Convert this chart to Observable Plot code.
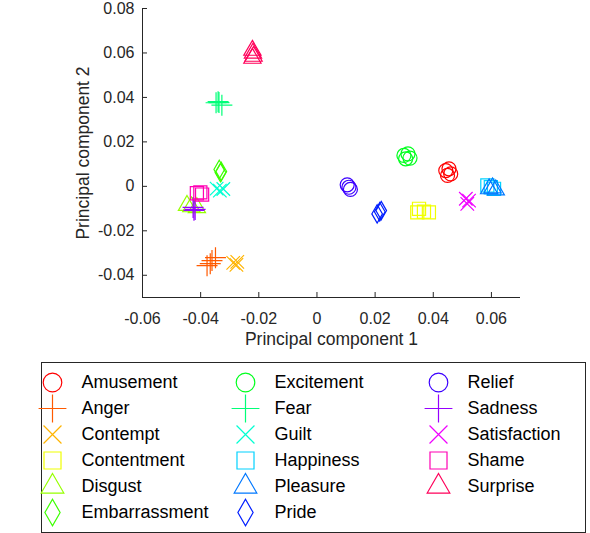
<!DOCTYPE html>
<html><head><meta charset="utf-8">
<script src="https://cdn.jsdelivr.net/npm/d3@7"></script>
<script src="https://cdn.jsdelivr.net/npm/@observablehq/plot@0.6"></script>
<style>
body{margin:0;background:#fff;font-family:"Liberation Sans",Arial,sans-serif;}
#chart{position:absolute;left:0;top:0;}
#legend{position:absolute;left:41px;top:362px;width:543px;height:169px;border:1px solid #262626;background:#fff;}
svg{display:block;}
</style></head><body>
<div id="chart"></div><div id="legend"></div>
<script>
const emotions = ["Amusement","Anger","Contempt","Contentment","Disgust","Embarrassment","Excitement","Fear","Guilt","Happiness","Pleasure","Pride","Relief","Sadness","Satisfaction","Shame","Surprise"];
const shapes = ["circle","plus","times","square","triangle","diamond"];
const colors = ["#ff0000","#ff5a00","#ffb400","#f0ff00","#96ff00","#3cff00","#00ff1e","#00ff78","#00ffd2","#00d2ff","#0078ff","#001eff","#3c00ff","#9600ff","#f000ff","#ff00b4","#ff005a"];
const pc1 = [
  [0.0443, 0.0454, 0.0460, 0.0449],
  [-0.0378, -0.0361, -0.0349, -0.0367],
  [-0.0288, -0.0277, -0.0274],
  [0.0351, 0.0368, 0.0385, 0.0345],
  [-0.0447, -0.0432, -0.0413],
  [-0.0336, -0.0329, -0.0332],
  [0.0299, 0.0313, 0.0320, 0.0305],
  [-0.0347, -0.0337, -0.0327, -0.0340],
  [-0.0345, -0.0334, -0.0322],
  [0.0586, 0.0598, 0.0609],
  [0.0592, 0.0604, 0.0615],
  [0.0207, 0.0216, 0.0221],
  [0.0104, 0.0115, 0.0110],
  [-0.0426, -0.0419, -0.0423],
  [0.0512, 0.0523, 0.0517],
  [-0.0413, -0.0401, -0.0395],
  [-0.0222, -0.0220, -0.0218, -0.0222]
];
const pc2 = [
  [0.0071, 0.0079, 0.0056, 0.0049],
  [-0.0357, -0.0334, -0.0321, -0.0348],
  [-0.0344, -0.0353, -0.0340],
  [-0.0101, -0.0114, -0.0117, -0.0117],
  [-0.0086, -0.0092, -0.0096],
  [0.0076, 0.0067, 0.0062],
  [0.0139, 0.0146, 0.0127, 0.0124],
  [0.0376, 0.0377, 0.0365, 0.0381],
  [-0.0010, -0.0019, -0.0012],
  [0.0004, -0.0004, -0.0011],
  [-0.0011, -0.0007, -0.0016],
  [-0.0124, -0.0114, -0.0109],
  [0.0007, -0.0014, -0.0004],
  [-0.0095, -0.0104, -0.0108],
  [-0.0056, -0.0064, -0.0079],
  [-0.0031, -0.0027, -0.0037],
  [0.0612, 0.0599, 0.0585, 0.0576]
];
const xTicks = [-0.06,-0.04,-0.02,0,0.02,0.04,0.06];
const yTicks = [-0.04,-0.02,0,0.02,0.04,0.06,0.08];
const xLabel = "Principal component 1";
const yLabel = "Principal component 2";

const fmt = d => d === 0 ? "0" : d.toFixed(2);
const sizeFor = {circle:7, plus:6.8, times:6.2, square:7.4, triangle:6.4, diamond:5.6};
const legendSize = {circle:9.3, plus:9, times:8.2, square:9.6, triangle:8.4, diamond:8};
const FONT = '"Liberation Sans", Arial, sans-serif';

const frameH = 297 - 8, frameW = 520 - 142;

const pointMarks = emotions.map((e, i) => {
  const pts = pc1[i].map((x, j) => ({x, y: pc2[i][j]}));
  const s = shapes[i % 6];
  return Plot.dot(pts, {x: "x", y: "y", symbol: s, stroke: colors[i], fill: "none", r: sizeFor[s], strokeWidth: 1.2});
});

const chart = Plot.plot({
  width: 590, height: 350,
  marginLeft: 142, marginRight: 70, marginTop: 8, marginBottom: 53,
  x: {domain: [-0.06, 0.07]},
  y: {domain: [-0.05, 0.08]},
  style: {fontFamily: FONT, fontSize: "16px", color: "#262626", background: "white", overflow: "visible"},
  marks: [
    Plot.axisX(xTicks, {tickSize: 0, tickPadding: 15, tickFormat: fmt, fontSize: 16, fill: "#262626", label: null}),
    Plot.axisY(yTicks, {tickSize: 0, tickPadding: 8, tickFormat: fmt, fontSize: 16, fill: "#262626", label: null}),
    Plot.text([xLabel], {text: d => d, frameAnchor: "bottom", textAnchor: "middle", lineAnchor: "top", dy: 35, fontSize: 17.5, fill: "#262626"}),
    Plot.text([yLabel], {text: d => d, frameAnchor: "left", textAnchor: "middle", lineAnchor: "top", rotate: -90, dx: -66, fontSize: 17.5, fill: "#262626"}),
    Plot.ruleX(xTicks, {x: d => d, insetTop: frameH - 5, stroke: "#262626"}),
    Plot.ruleY(yTicks, {y: d => d, insetRight: frameW - 5, stroke: "#262626"}),
    Plot.ruleX([-0.06], {stroke: "#262626", strokeWidth: 1}),
    Plot.ruleY([-0.05], {stroke: "#262626", strokeWidth: 1}),
    ...pointMarks
  ]
});
document.getElementById("chart").appendChild(chart);

const legendRows = emotions.map((e, i) => ({name: e, col: Math.floor(i / 6), row: i % 6, shape: shapes[i % 6], color: colors[i]}));
const legend = Plot.plot({
  width: 543, height: 169,
  margin: 0,
  x: {type: "point", domain: [0, 1, 2], range: [10, 396], padding: 0, axis: null},
  y: {type: "point", domain: [0, 1, 2, 3, 4, 5], range: [19, 149], padding: 0, axis: null},
  style: {fontFamily: FONT, background: "white", overflow: "visible"},
  marks: [
    ...legendRows.map(d => Plot.dot([d], {x: "col", y: "row", symbol: d.shape, stroke: d.color, fill: "none", r: legendSize[d.shape], strokeWidth: 1.2})),
    Plot.text(legendRows, {x: "col", y: "row", text: "name", dx: 29, textAnchor: "start", fontSize: 18, fill: "#000"})
  ]
});
document.getElementById("legend").appendChild(legend);
</script>
</body></html>
